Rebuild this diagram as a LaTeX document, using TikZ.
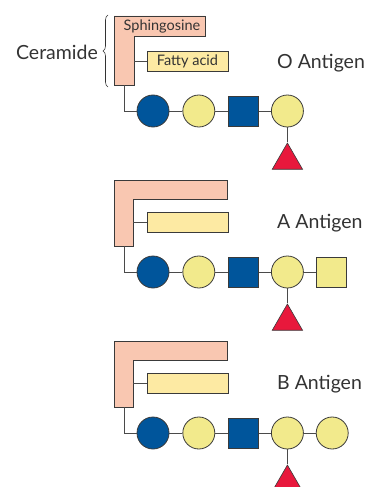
\documentclass[tikz,border=0pt]{standalone}
\usepackage{fontspec}
\setmainfont{Lato}
\usepackage{tikz}
\usetikzlibrary{
    positioning,
    shapes.geometric,
    decorations.pathreplacing
}
\definecolor{glcblue}{HTML}{00559B}
\definecolor{galyellow}{HTML}{F2EA8C}
\definecolor{fucred}{HTML}{E8183C}
\definecolor{sphpink}{HTML}{F9C7B1}
\definecolor{fattyyellow}{HTML}{FDEAA3}
\definecolor{symborder}{HTML}{3A3A3A}
\definecolor{linkgray}{HTML}{4A4A4A}
\definecolor{labelgray}{HTML}{333333}
\tikzset{
    sugar/.style={
        circle, draw=symborder, line width=0.8pt,
        minimum size=32pt, inner sep=0pt
    },
    glc/.style={sugar, fill=glcblue},
    gal/.style={sugar, fill=galyellow},
    glcnac/.style={
        rectangle, draw=symborder, line width=0.8pt, fill=glcblue,
        minimum size=30pt, inner sep=0pt
    },
    galnac/.style={glcnac, fill=galyellow},
    fuc/.style={
        regular polygon, regular polygon sides=3,
        draw=symborder, line width=0.6pt, fill=fucred,
        minimum size=35pt, inner sep=0pt
    },
    sphingosine/.style={
        draw=symborder, fill=sphpink, line width=0.8pt
    },
    fatty/.style={
        rectangle, draw=symborder, fill=fattyyellow, line width=0.8pt,
        minimum width=81pt, minimum height=20pt, inner sep=0pt,
        font=\fontsize{14.5}{17}\selectfont, text=labelgray
    },
    small label/.style={
        inner sep=0pt, font=\fontsize{14.5}{17}\selectfont, text=labelgray
    },
    big label/.style={
        inner sep=0pt, font=\fontsize{19.5}{23}\selectfont, text=labelgray
    },
    link/.style={draw=linkgray, line width=1pt},
    brace line/.style={
        draw=labelgray, line width=0.6pt, decorate,
        decoration={brace, amplitude=5pt}
    },
}

\begin{document}
\begin{tikzpicture}[x=1pt, y=-1pt]

    \useasboundingbox (0,0) rectangle (369,487);
    \clip (0,0) rectangle (369,487);

    % O antigen
    \draw[sphingosine] (114,16) -- (205,16) -- (205,36) -- (134,36) -- (134,85) -- (114,85) -- cycle;
    \node[small label] (o-sph) at (162,26) {Sphingosine};
    \coordinate (o-sphbase) at (124,85);
    \coordinate (o-sphside) at (134,61.5);
    \node[fatty] (o-fatty) at (187.5,61.5) {Fatty acid};

    \draw[brace line] (108,87) -- (108,15);
    \coordinate (o-bracetip) at (103,52);
    \node[big label, left=5pt of o-bracetip] (o-ceramide) {Ceramide};

    \node[glc] (o-glc) at (153,111) {};
    \node[gal, right=13pt of o-glc] (o-gal) {};
    \node[glcnac, right=13pt of o-gal] (o-glcnac) {};
    \node[gal, right=12pt of o-glcnac] (o-gal2) {};
    \node[fuc, below=15pt of o-gal2] (o-fuc) {};
    \node[big label, anchor=west] (o-label) at (277,63) {O Antigen};

    \draw[link] (o-sphside) -- (o-fatty);
    \draw[link] (o-sphbase) |- (o-glc);
    \draw[link] (o-glc) -- (o-gal);
    \draw[link] (o-gal) -- (o-glcnac);
    \draw[link] (o-glcnac) -- (o-gal2);
    \draw[link] (o-gal2) -- (o-fuc);

    % A antigen
    \begin{scope}[yshift=-161pt]
        \draw[sphingosine] (114,19) -- (227,19) -- (227,38) -- (133,38) -- (133,85) -- (114,85) -- cycle;
        \coordinate (a-sphbase) at (124,85);
        \coordinate (a-sphside) at (133,61.5);
        \node[fatty] (a-fatty) at (187.5,61.5) {};

        \node[glc] (a-glc) at (153,111) {};
        \node[gal, right=13pt of a-glc] (a-gal) {};
        \node[glcnac, right=13pt of a-gal] (a-glcnac) {};
        \node[gal, right=12pt of a-glcnac] (a-gal2) {};
        \node[galnac, right=12pt of a-gal2] (a-galnac) {};
        \node[fuc, below=15pt of a-gal2] (a-fuc) {};
        \node[big label, anchor=west] (a-label) at (277,62) {A Antigen};

        \draw[link] (a-sphside) -- (a-fatty);
        \draw[link] (a-sphbase) |- (a-glc);
        \draw[link] (a-glc) -- (a-gal);
        \draw[link] (a-gal) -- (a-glcnac);
        \draw[link] (a-glcnac) -- (a-gal2);
        \draw[link] (a-gal2) -- (a-galnac);
        \draw[link] (a-gal2) -- (a-fuc);
    \end{scope}

    % B antigen
    \begin{scope}[yshift=-322pt]
        \draw[sphingosine] (114,19) -- (227,19) -- (227,38) -- (133,38) -- (133,85) -- (114,85) -- cycle;
        \coordinate (b-sphbase) at (124,85);
        \coordinate (b-sphside) at (133,61.5);
        \node[fatty] (b-fatty) at (187.5,61.5) {};

        \node[glc] (b-glc) at (153,111) {};
        \node[gal, right=13pt of b-glc] (b-gal) {};
        \node[glcnac, right=13pt of b-gal] (b-glcnac) {};
        \node[gal, right=12pt of b-glcnac] (b-gal2) {};
        \node[gal, right=12pt of b-gal2] (b-gal3) {};
        \node[fuc, below=15pt of b-gal2] (b-fuc) {};
        \node[big label, anchor=west] (b-label) at (277,62) {B Antigen};

        \draw[link] (b-sphside) -- (b-fatty);
        \draw[link] (b-sphbase) |- (b-glc);
        \draw[link] (b-glc) -- (b-gal);
        \draw[link] (b-gal) -- (b-glcnac);
        \draw[link] (b-glcnac) -- (b-gal2);
        \draw[link] (b-gal2) -- (b-gal3);
        \draw[link] (b-gal2) -- (b-fuc);
    \end{scope}

\end{tikzpicture}
\end{document}
